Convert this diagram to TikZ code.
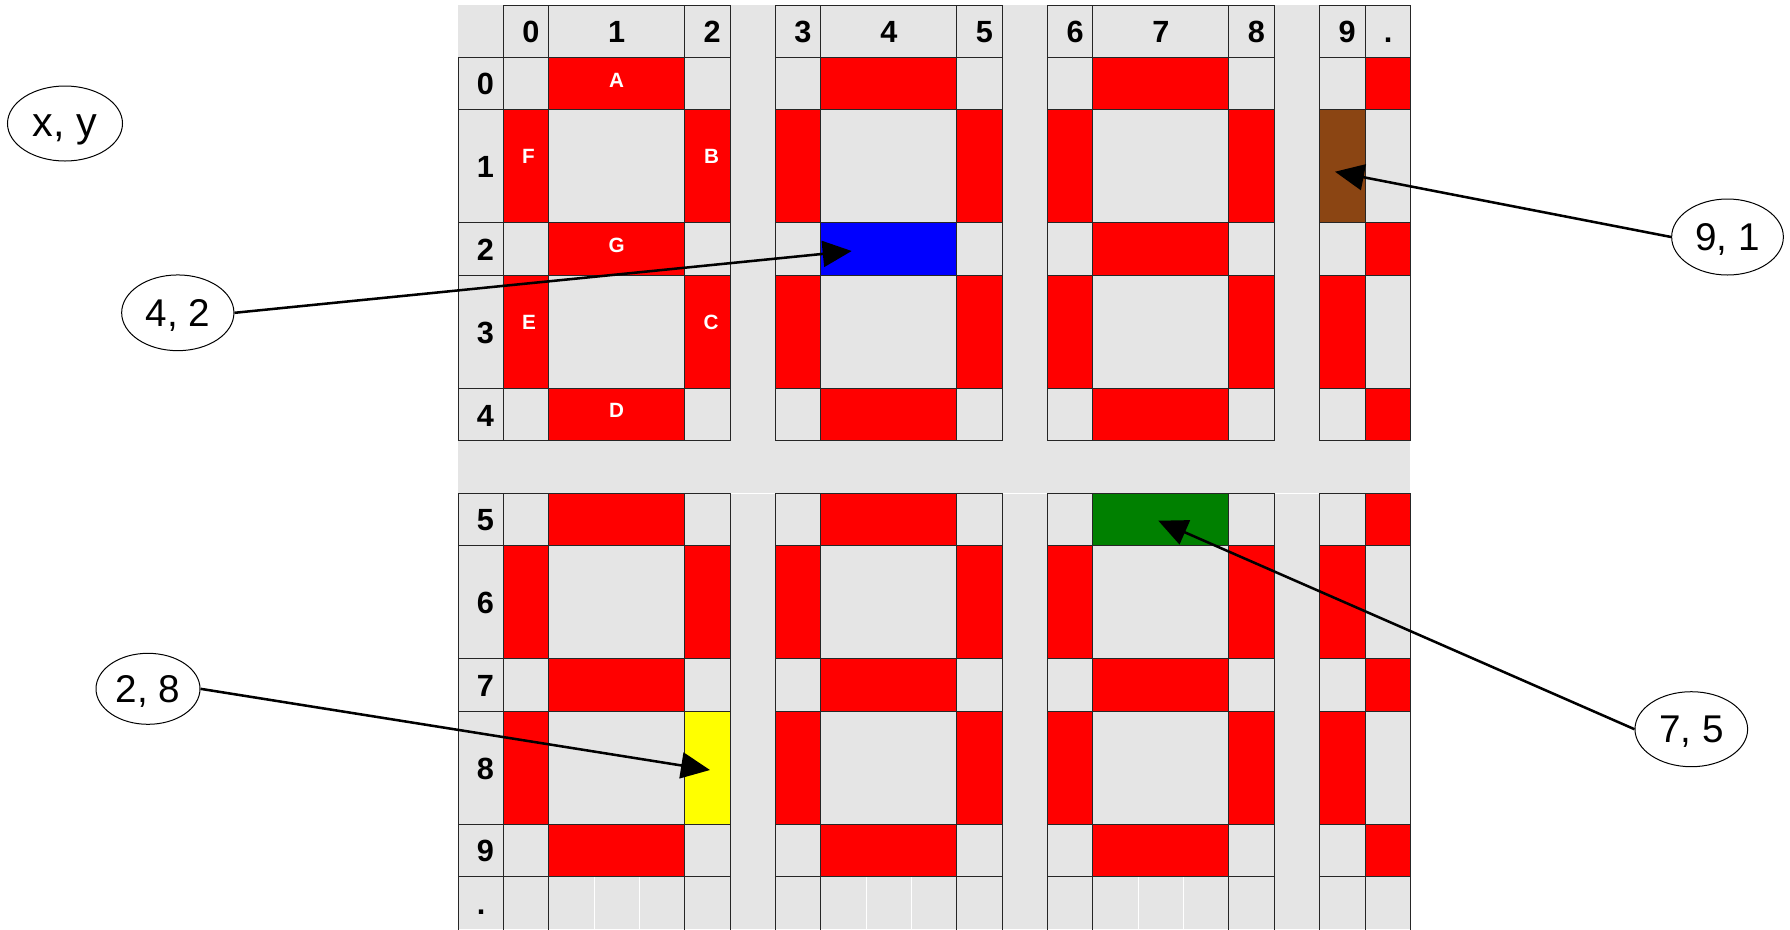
\documentclass[tikz,border=0pt]{standalone}
\usepackage{fontspec}
\setmainfont{Liberation Sans}
\usetikzlibrary{arrows.meta,shapes.geometric}
\definecolor{bggray}{HTML}{E5E5E5}
\definecolor{segred}{HTML}{FF0000}
\definecolor{selblue}{HTML}{0000FF}
\definecolor{selgreen}{HTML}{008000}
\definecolor{selyellow}{HTML}{FFFF00}
\definecolor{selbrown}{HTML}{8B4513}
\begin{document}
\begin{tikzpicture}[x=0.75pt,y=-0.75pt,
  gridline/.style={draw=black!85,line width=0.75pt},
  hdr/.style={inner sep=0pt,text height=16.25pt,text depth=0pt,font=\fontsize{23}{27}\selectfont\bfseries},
  seglbl/.style={inner sep=0pt,text height=11pt,text depth=0pt,text=white,font=\fontsize{15.5}{18}\selectfont\bfseries},
  tag/.style={ellipse,draw=black,line width=0.75pt,inner sep=0pt,text height=20pt,text depth=0pt,font=\fontsize{29}{33}\selectfont},
  pointer/.style={line width=1.9pt,-{Triangle[length=21.75pt,width=19.5pt]}}
]
\useasboundingbox (0,0) rectangle (1790,929);
% background
\fill[bggray] (458,5) rectangle (1410.35,929);
% horizontal red segments
\foreach \xa/\xb in {548.7/684.75,820.8/956.85,1092.9/1228.95,1365/1410.35}
  \foreach \ya/\yb in {57.3/109.6,222.9/275.2,388.5/440.8,493.1/545.4,658.7/711,824.3/876.6}
    \fill[segred] (\xa,\ya) rectangle (\xb,\yb);
% vertical red segments
\foreach \xa/\xb in {503.35/548.7,684.75/730.1,775.45/820.8,956.85/1002.2,1047.55/1092.9,1228.95/1274.3,1319.65/1365}
  \foreach \ya/\yb in {109.6/222.9,275.2/388.5,545.4/658.7,711/824.3}
    \fill[segred] (\xa,\ya) rectangle (\xb,\yb);
% highlighted cells
\fill[selblue] (820.8,222.9) rectangle (956.85,275.2);
\fill[selgreen] (1092.9,493.1) rectangle (1228.95,545.4);
\fill[selyellow] (684.75,711) rectangle (730.1,824.3);
\fill[selbrown] (1319.65,109.6) rectangle (1365,222.9);
% grid
\foreach \xa/\xb in {503.35/548.7,548.7/684.75,684.75/730.1,775.45/820.8,820.8/956.85,956.85/1002.2,1047.55/1092.9,1092.9/1228.95,1228.95/1274.3,1319.65/1365,1365/1410.35}
  \foreach \ya/\yb in {5/57.3,57.3/109.6,109.6/222.9,222.9/275.2,275.2/388.5,388.5/440.8,493.1/545.4,545.4/658.7,658.7/711,711/824.3,824.3/876.6,876.6/932}
    \draw[gridline] (\xa,\ya) rectangle (\xb,\yb);
\foreach \ya/\yb in {57.3/109.6,109.6/222.9,222.9/275.2,275.2/388.5,388.5/440.8,493.1/545.4,545.4/658.7,658.7/711,711/824.3,824.3/876.6,876.6/932}
  \draw[gridline] (458,\ya) rectangle (503.35,\yb);
% faint white lines
\foreach \x in {594.05,639.4,866.15,911.5,1138.25,1183.6}
  \draw[white,line width=0.75pt] (\x,877.3) -- (\x,929);
\foreach \xa/\xb in {730.1/775.45,1002.2/1047.55,1274.3/1319.65}
  \draw[white,line width=0.75pt] (\xa+0.6,493.1) -- (\xb-0.6,493.1);
% column headers
\node[hdr,anchor=west] (h0) at (522.05,32) {0};
\node[hdr] (h1) at (616.7,32) {1};
\node[hdr,anchor=west] (h2) at (703.45,32) {2};
\node[hdr,anchor=west] (h3) at (794.15,32) {3};
\node[hdr] (h4) at (888.8,32) {4};
\node[hdr,anchor=west] (h5) at (975.55,32) {5};
\node[hdr,anchor=west] (h6) at (1066.25,32) {6};
\node[hdr] (h7) at (1160.9,32) {7};
\node[hdr,anchor=west] (h8) at (1247.65,32) {8};
\node[hdr,anchor=west] (h9) at (1338.35,32) {9};
\node[hdr,anchor=west] (hd) at (1383.7,32) {.};
% row headers
\node[hdr,anchor=west] (r0) at (476.7,84) {0};
\node[hdr,anchor=west] (r1) at (476.7,166.8) {1};
\node[hdr,anchor=west] (r2) at (476.7,249.6) {2};
\node[hdr,anchor=west] (r3) at (476.7,332.4) {3};
\node[hdr,anchor=west] (r4) at (476.7,415.2) {4};
\node[hdr,anchor=west] (r5) at (476.7,519.8) {5};
\node[hdr,anchor=west] (r6) at (476.7,602.6) {6};
\node[hdr,anchor=west] (r7) at (476.7,685.4) {7};
\node[hdr,anchor=west] (r8) at (476.7,768.2) {8};
\node[hdr,anchor=west] (r9) at (476.7,851) {9};
\node[hdr,anchor=west] (rd) at (476.7,903.3) {.};
% segment letters
\node[seglbl] (sA) at (616.5,80.3) {A};
\node[seglbl] (sF) at (528.5,155.8) {F};
\node[seglbl] (sB) at (711.5,155.8) {B};
\node[seglbl] (sG) at (616.7,245.3) {G};
\node[seglbl] (sE) at (529,321.7) {E};
\node[seglbl] (sC) at (711,321.7) {C};
\node[seglbl] (sD) at (616.7,410.3) {D};
% callouts
\node[tag,minimum width=86.25pt,minimum height=56.25pt,font=\fontsize{31}{35}\selectfont] (exy) at (65,123.5) {x, y};
\node[tag,minimum width=84.2pt,minimum height=56.8pt] (e42) at (177.8,312.8) {4, 2};
\node[tag,minimum width=78pt,minimum height=53.25pt] (e28) at (148,688.8) {2, 8};
\node[tag,minimum width=84.5pt,minimum height=56.25pt] (e75) at (1691.3,729.2) {7, 5};
\node[tag,minimum width=83.8pt,minimum height=57pt] (e91) at (1727.5,237) {9, 1};
\coordinate (t42) at (851.7,251);
\coordinate (t28) at (710,770);
\coordinate (t75) at (1158.3,520.7);
\coordinate (t91) at (1335,171.7);
\draw[pointer] (e42.east) -- (t42);
\draw[pointer] (e28.east) -- (t28);
\draw[pointer] (e75.west) -- (t75);
\draw[pointer] (e91.west) -- (t91);
\end{tikzpicture}
\end{document}
